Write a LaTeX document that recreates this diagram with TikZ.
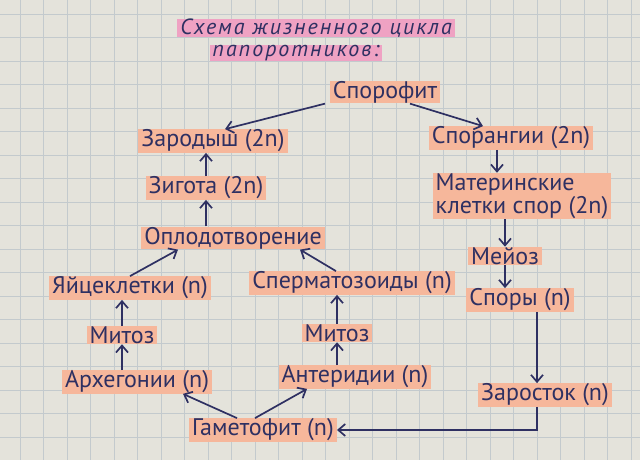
\documentclass[tikz,border=0pt]{standalone}
\usepackage{fontspec}
\setmainfont{PT Sans}
\usetikzlibrary{arrows.meta, calc}

\definecolor{paper}{HTML}{E4E3DB}
\definecolor{gridcol}{HTML}{C3CACD}
\definecolor{ink}{HTML}{2E3062}
\definecolor{marker}{HTML}{F6B79B}
\definecolor{pinkmarker}{HTML}{EFA2C3}

\begin{document}
\begin{tikzpicture}[x=1pt, y=-1pt,
            stage/.style={fill=marker, text=ink, inner xsep=3pt, inner ysep=0.5pt, font=\fontsize{24}{23}\selectfont},
            titlebox/.style={fill=pinkmarker, text=ink, inner xsep=3pt, inner ysep=0pt, font=\itshape\fontsize{22}{22}\selectfont\addfontfeatures{LetterSpace=9}},
            arr/.style={draw=ink, line width=1.7pt, -{Straight Barb[length=7pt, width=12pt]}},
            gridline/.style={draw=gridcol, line width=0.6pt}
        ]

        % Papier
        \useasboundingbox (0,0) rectangle (640,460);
        \fill[paper] (0,0) rectangle (640,460);
        \foreach \gx in {20,43.5,...,640} \draw[gridline] (\gx,0) -- (\gx,460);
        \foreach \gy in {14,37.5,...,460} \draw[gridline] (0,\gy) -- (640,\gy);

        % Knoten
        \node[titlebox] (title1) at (316,28) {Схема жизненного цикла};
        \node[titlebox] (title2) at (296,53) {папоротников:};

        \node[stage] (sporofit) at (385,92) {Спорофит};
        \node[stage] (zarodysh) at (213,141) {Зародыш (2n)};
        \node[stage] (sporangii) at (511,138) {Спорангии (2n)};
        \node[stage] (zigota) at (206,188) {Зигота (2n)};
        \node[stage, align=left] (materinskie) at (522,196) {Материнские\\клетки спор (2n)};
        \node[stage] (oplod) at (233,238) {Оплодотворение};
        \node[stage] (meioz) at (505,256) {Мейоз};
        \node[stage] (yaitse) at (130,288) {Яйцеклетки (n)};
        \node[stage] (sperm) at (352,283) {Сперматозоиды (n)};
        \node[stage] (spory) at (520,300) {Споры (n)};
        \node[stage] (mitozL) at (122,335) {Митоз};
        \node[stage] (mitozR) at (337,333) {Митоз};
        \node[stage] (arheg) at (137,382) {Архегонии (n)};
        \node[stage] (anter) at (355,377) {Антеридии (n)};
        \node[stage] (zarostok) at (545,395) {Заросток (n)};
        \node[stage] (gametofit) at (263,430) {Гаметофит (n)};

        % Kanten
        \draw[arr] ([xshift=-60pt]sporofit.south) -- ([xshift=12pt]zarodysh.north);
        \draw[arr] ([xshift=25pt]sporofit.south) -- ([xshift=-28pt]sporangii.north);
        \draw[arr] (zigota.north) -- (zigota.north |- zarodysh.south);
        \draw[arr] (oplod.north -| zigota) -- (zigota.south);
        \draw[arr] (yaitse.north) -- ([xshift=-55pt]oplod.south);
        \draw[arr] ([xshift=-16pt]sperm.north) -- ([xshift=67pt]oplod.south);
        \draw[arr] (mitozL.north) -- (mitozL.north |- yaitse.south);
        \draw[arr] (arheg.north -| mitozL) -- (mitozL.south);
        \draw[arr] (mitozR.north) -- (mitozR.north |- sperm.south);
        \draw[arr] (anter.north -| mitozR) -- (mitozR.south);
        \draw[arr] ([xshift=-26pt]gametofit.north) -- ([xshift=46pt]arheg.south);
        \draw[arr] ([xshift=-8pt]gametofit.north) -- ([xshift=-48pt]anter.south);
        \draw[arr] ([xshift=-14pt]sporangii.south) -- ([xshift=-14pt]sporangii.south |- materinskie.north);
        \draw[arr] (materinskie.south -| meioz) -- (meioz.north);
        \draw[arr] (meioz.south) -- (meioz.south |- spory.north);
        \draw[arr] ([xshift=17pt]spory.south) -- ([xshift=17pt]spory.south |- zarostok.north);
        \draw[arr] ([xshift=-8pt]zarostok.south) |- (gametofit.east);

    \end{tikzpicture}
\end{document}
